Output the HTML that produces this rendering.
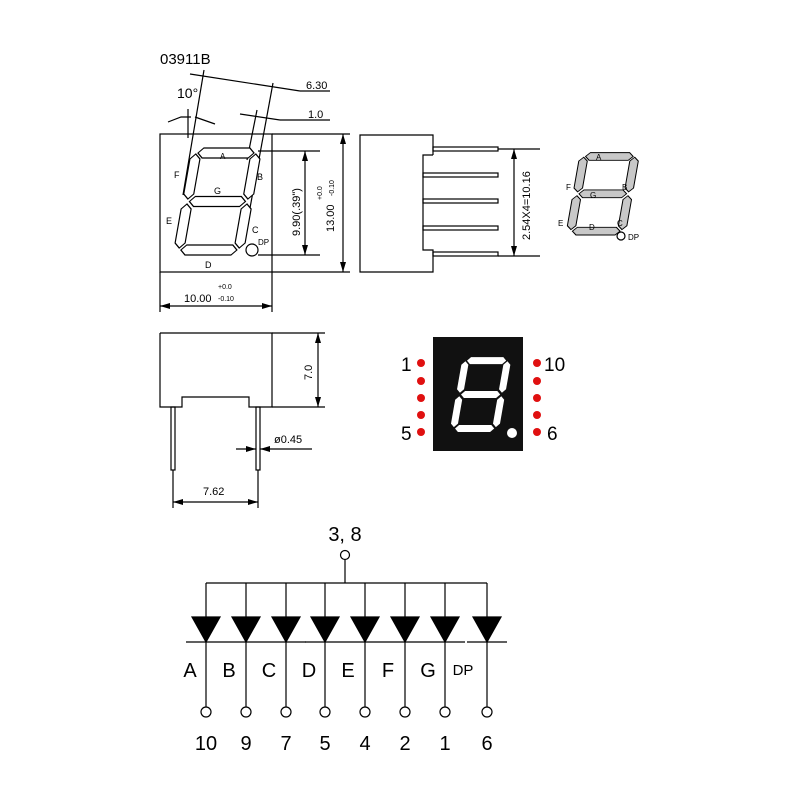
<!DOCTYPE html>
<html><head><style>body{margin:0;background:#fff}svg{display:block}</style></head><body>
<svg width="800" height="800" viewBox="0 0 800 800" xmlns="http://www.w3.org/2000/svg" font-family="Liberation Sans, sans-serif">
<defs>
<marker id="ar" viewBox="0 0 10 6" refX="10" refY="3" markerWidth="10" markerHeight="6" orient="auto-start-reverse" markerUnits="userSpaceOnUse"><path d="M0,0 L10,3 L0,6 z" fill="#000"/></marker>
<g id="seg">
<polygon points="2,-102 7,-107 53,-107 58,-102 53,-97 7,-97"/>
<polygon points="2,-53.5 7,-58.5 53,-58.5 58,-53.5 53,-48.5 7,-48.5"/>
<polygon points="2,-5 7,-10 53,-10 58,-5 53,0 7,0"/>
<polygon points="0,-101 5,-96 5,-61 0,-56 -5,-61 -5,-96"/>
<polygon points="60,-101 65,-96 65,-61 60,-56 55,-61 55,-96"/>
<polygon points="0,-51 5,-46 5,-12 0,-7 -5,-12 -5,-46"/>
<polygon points="60,-51 65,-46 65,-12 60,-7 55,-12 55,-46"/>
</g>
</defs>
<g fill="none" stroke="#000" stroke-width="1.2">
<text x="160" y="64" font-size="15" fill="#000" stroke="none">03911B</text>
<rect x="160" y="134" width="112" height="138"/>
<line x1="272" y1="134" x2="350" y2="134"/>
<line x1="272" y1="272" x2="350" y2="272"/>
<line x1="258" y1="151" x2="320" y2="151"/>
<line x1="258" y1="255" x2="320" y2="255"/>
<line x1="305" y1="151" x2="305" y2="255" marker-start="url(#ar)" marker-end="url(#ar)"/>
<line x1="343" y1="134" x2="343" y2="272" marker-start="url(#ar)" marker-end="url(#ar)"/>
<line x1="160" y1="272" x2="160" y2="312"/>
<line x1="272" y1="272" x2="272" y2="312"/>
<line x1="160" y1="306" x2="272" y2="306" marker-start="url(#ar)" marker-end="url(#ar)"/>
<line x1="204" y1="70" x2="183" y2="195"/>
<line x1="273" y1="83" x2="250" y2="208"/>
<line x1="257" y1="110" x2="247" y2="160"/>
<line x1="190" y1="74" x2="300" y2="91"/><line x1="300" y1="91" x2="330" y2="91"/>
<line x1="240" y1="114" x2="280" y2="120"/><line x1="280" y1="120" x2="330" y2="120"/>
<line x1="188" y1="109" x2="188" y2="138"/>
<polyline points="168,122 181,117 191,117"/>
<polyline points="195,117 215,124"/>
<g transform="translate(178,255) skewX(-10)" fill="#fff"><use href="#seg"/></g>
<circle cx="252" cy="250" r="6"/>
<polyline points="433,155 433,135 360,135 360,272 433,272 433,250 423,250 423,155 433,155"/>
<rect x="433" y="147" width="65" height="4"/>
<rect x="423" y="173" width="75" height="4"/>
<rect x="423" y="199" width="75" height="4"/>
<rect x="423" y="226" width="75" height="4"/>
<rect x="433" y="252" width="65" height="4"/>
<line x1="498" y1="149" x2="540" y2="149"/><line x1="498" y1="256" x2="540" y2="256"/>
<line x1="514" y1="149" x2="514" y2="256" marker-start="url(#ar)" marker-end="url(#ar)"/>
<g transform="translate(570,235) skewX(-10) scale(0.85,0.77)" fill="#c8c8c8"><use href="#seg"/></g>
<circle cx="621" cy="236" r="4"/>
<polyline points="160,333 272,333 272,407 249,407 249,397 182,397 182,407 160,407 160,333"/>
<line x1="272" y1="333" x2="325" y2="333"/><line x1="272" y1="407" x2="325" y2="407"/>
<line x1="318" y1="333" x2="318" y2="407" marker-start="url(#ar)" marker-end="url(#ar)"/>
<rect x="171" y="407" width="4" height="63"/>
<rect x="256" y="407" width="4" height="63"/>
<line x1="173" y1="470" x2="173" y2="508"/><line x1="258" y1="470" x2="258" y2="508"/>
<line x1="173" y1="502" x2="258" y2="502" marker-start="url(#ar)" marker-end="url(#ar)"/>
<line x1="236" y1="449" x2="256" y2="449" marker-end="url(#ar)"/>
<line x1="312" y1="449" x2="260" y2="449" marker-end="url(#ar)"/>
<circle cx="345" cy="555" r="4.5"/>
<line x1="345" y1="560" x2="345" y2="583"/>
<line x1="206" y1="583" x2="487" y2="583"/>
</g>
<g font-size="10" fill="#000">
<text x="177" y="98" font-size="14">10°</text>
<text x="306" y="89" font-size="11">6.30</text>
<text x="308" y="118" font-size="11">1.0</text>
<text x="220" y="159" font-size="8">A</text>
<text x="174" y="178" font-size="9">F</text>
<text x="257" y="180" font-size="9">B</text>
<text x="214" y="194" font-size="9">G</text>
<text x="166" y="224" font-size="9">E</text>
<text x="252" y="233" font-size="9">C</text>
<text x="258" y="245" font-size="8">DP</text>
<text x="205" y="268" font-size="9">D</text>
<text transform="translate(300,236) rotate(-90)" font-size="11">9.90(.39")</text>
<text transform="translate(334,232) rotate(-90)" font-size="11">13.00</text>
<text transform="translate(322,200) rotate(-90)" font-size="7">+0.0</text>
<text transform="translate(334,196) rotate(-90)" font-size="7">-0.10</text>
<text x="218" y="289" font-size="7">+0.0</text>
<text x="184" y="302" font-size="11">10.00</text>
<text x="218" y="301" font-size="7">-0.10</text>
<text transform="translate(530,240) rotate(-90)" font-size="11">2.54X4=10.16</text>
<text x="596" y="160" font-size="8">A</text>
<text x="566" y="190" font-size="8">F</text>
<text x="622" y="190" font-size="8">B</text>
<text x="590" y="198" font-size="8">G</text>
<text x="558" y="226" font-size="8">E</text>
<text x="589" y="230" font-size="8">D</text>
<text x="617" y="226" font-size="8">C</text>
<text x="628" y="240" font-size="8">DP</text>
<text transform="translate(312,380) rotate(-90)" font-size="11">7.0</text>
<text x="274" y="443" font-size="11">ø0.45</text>
<text x="203" y="495" font-size="11">7.62</text>
</g>
<rect x="433" y="337" width="90" height="114" fill="#111"/>
<g transform="translate(453,432) skewX(-10) scale(0.7,0.7)" fill="#fff"><use href="#seg"/></g>
<circle cx="512" cy="433" r="5" fill="#fff"/>
<g fill="#e01010">
<circle cx="421" cy="363" r="4"/><circle cx="421" cy="381" r="4"/><circle cx="421" cy="398" r="4"/><circle cx="421" cy="415" r="4"/><circle cx="421" cy="432" r="4"/>
<circle cx="537" cy="363" r="4"/><circle cx="537" cy="381" r="4"/><circle cx="537" cy="398" r="4"/><circle cx="537" cy="415" r="4"/><circle cx="537" cy="432" r="4"/>
</g>
<g font-size="19" fill="#000">
<text x="401" y="371">1</text><text x="401" y="440">5</text>
<text x="544" y="371">10</text><text x="547" y="440">6</text>
</g>
<g id="d" stroke="#000" stroke-width="1.2" fill="none">
<line x1="206" y1="583" x2="206" y2="707"/><polygon points="192,617 220,617 206,642" fill="#000"/><line x1="186" y1="642" x2="226" y2="642"/><circle cx="206" cy="712" r="5"/>
</g>
<use href="#d" x="40"/><use href="#d" x="80"/><use href="#d" x="119"/><use href="#d" x="159"/><use href="#d" x="199"/><use href="#d" x="239"/><use href="#d" x="281"/>
<g font-size="20" fill="#000" text-anchor="middle">
<text x="345" y="541">3, 8</text>
<text x="190" y="677">A</text><text x="229" y="677">B</text><text x="269" y="677">C</text><text x="309" y="677">D</text><text x="348" y="677">E</text><text x="388" y="677">F</text><text x="428" y="677">G</text><text x="463" y="675" font-size="15">DP</text>
<text x="206" y="750">10</text><text x="246" y="750">9</text><text x="286" y="750">7</text><text x="325" y="750">5</text><text x="365" y="750">4</text><text x="405" y="750">2</text><text x="445" y="750">1</text><text x="487" y="750">6</text>
</g>
</svg>
</body></html>
